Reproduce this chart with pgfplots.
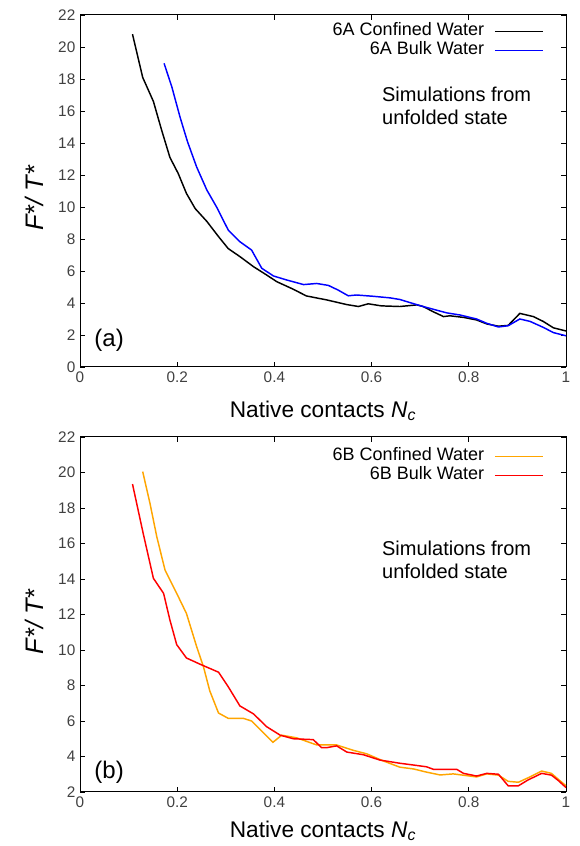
\documentclass[border=0pt]{standalone}
\usepackage{fontspec}
\setmainfont{Liberation Sans}
\usepackage{pgfplots}
\pgfplotsset{compat=1.18}
\definecolor{myblue}{RGB}{0,0,255}
\definecolor{myorange}{RGB}{255,165,0}
\definecolor{myred}{RGB}{255,0,0}
\definecolor{myredleg}{RGB}{254,0,0}
\pgfplotsset{
  panel/.style={
    scale only axis, width=364.5pt,
    xmin=0, xmax=1, xtick={0,0.2,0.4,0.6,0.8,1},
    tick align=inside,
    tick label style={font=\fontsize{11.5}{13}\selectfont, text=black!75},
    /pgf/number format/assume math mode=true,
    axis line style={line width=0.75pt},
    major tick length=4pt,
    every tick/.style={black, line width=0.6pt},
    legend plot pos=right, legend cell align=right,
    legend style={draw=none, fill=none, anchor=north east,
      font=\fontsize{13.5}{14}\selectfont, row sep=0pt, column sep=7.5pt,
      nodes={inner sep=0pt, text height=10pt, text depth=4.25pt}},
    xlabel={Native contacts \textit{N}\textsubscript{\textit{c}}},
    xlabel style={font=\fontsize{17}{19}\selectfont, anchor=center},
    ylabel={\textit{F*/ T*}},
    ylabel style={font=\fontsize{19}{21}\selectfont, anchor=center, rotate=0,
      at={(axis description cs:-0.093,0.48)}},
  },
  ser/.style={color=#1, line width=1.1pt,
    legend image code/.code={\draw[draw=#1, line width=1.2pt] (0pt,0pt) -- (36pt,0pt);}},
}
\begin{document}
\begin{tikzpicture}
\useasboundingbox (0,0) rectangle (435pt,634.5pt);
\begin{axis}[panel, at={(60pt,359.25pt)}, anchor=south west, height=264pt,
  ymin=0, ymax=22, ytick={0,2,...,22},
  xlabel style={at={(axis description cs:0.5,-0.125)}},
  legend style={at={(rel axis cs:0.963,0.988)}}]
\addplot[ser=black] coordinates {(0.108,20.8)(0.129,18.1)(0.151,16.6)(0.168,14.8)(0.185,13.1)(0.202,12.1)(0.219,10.85)(0.237,9.9)(0.261,9.1)(0.285,8.15)(0.305,7.4)(0.329,6.9)(0.357,6.27)(0.384,5.75)(0.405,5.33)(0.436,4.9)(0.466,4.44)(0.508,4.19)(0.549,3.9)(0.573,3.78)(0.593,3.95)(0.62,3.82)(0.658,3.78)(0.693,3.88)(0.706,3.78)(0.727,3.45)(0.748,3.15)(0.761,3.2)(0.789,3.1)(0.816,2.94)(0.837,2.69)(0.861,2.55)(0.881,2.6)(0.892,2.94)(0.905,3.35)(0.933,3.15)(0.953,2.85)(0.974,2.45)(1.0,2.25)};
\addlegendentry{6A Confined Water}
\addplot[ser=myblue] coordinates {(0.173,18.98)(0.189,17.5)(0.206,15.6)(0.221,14.1)(0.240,12.5)(0.261,11.06)(0.281,10.0)(0.305,8.56)(0.329,7.83)(0.353,7.31)(0.374,6.17)(0.398,5.69)(0.425,5.44)(0.460,5.15)(0.487,5.22)(0.511,5.1)(0.531,4.81)(0.552,4.45)(0.569,4.5)(0.603,4.42)(0.638,4.32)(0.658,4.22)(0.686,3.96)(0.706,3.78)(0.734,3.55)(0.755,3.38)(0.782,3.25)(0.816,3.0)(0.837,2.73)(0.861,2.5)(0.881,2.58)(0.905,3.0)(0.926,2.85)(0.953,2.48)(0.974,2.15)(1.0,1.95)};
\addlegendentry{6A Bulk Water}
\node[anchor=west, align=left, font=\fontsize{15}{17.25}\selectfont] at (axis cs:0.612,16.3) {Simulations from\\unfolded state};
\node[anchor=west, font=\fontsize{18}{20}\selectfont] at (axis cs:0.02,1.7) {(a)};
\end{axis}
\begin{axis}[panel, at={(60pt,40.5pt)}, anchor=south west, height=266.25pt,
  ymin=2, ymax=22, ytick={2,4,...,22},
  xlabel style={at={(axis description cs:0.5,-0.11)}},
  legend style={at={(rel axis cs:0.963,0.98)}}]
\addplot[ser=myorange] coordinates {(0.129,20.05)(0.144,18.26)(0.158,16.38)(0.175,14.5)(0.199,13.19)(0.219,12.06)(0.240,10.19)(0.254,9.06)(0.267,7.7)(0.285,6.45)(0.305,6.15)(0.336,6.15)(0.353,6.0)(0.377,5.35)(0.397,4.8)(0.415,5.2)(0.446,5.05)(0.487,4.65)(0.528,4.65)(0.562,4.35)(0.590,4.15)(0.624,3.75)(0.658,3.4)(0.686,3.3)(0.713,3.12)(0.741,2.96)(0.768,3.02)(0.796,2.92)(0.816,2.85)(0.837,3.02)(0.861,2.95)(0.881,2.6)(0.902,2.55)(0.922,2.8)(0.950,3.18)(0.970,3.05)(0.984,2.72)(1.0,2.35)};
\addlegendentry{6B Confined Water}
\addplot[ser=myred, forget plot] coordinates {(0.108,19.35)(0.130,16.57)(0.151,14.04)(0.172,13.19)(0.185,11.69)(0.199,10.3)(0.219,9.55)(0.247,9.2)(0.285,8.75)(0.305,7.93)(0.329,6.85)(0.357,6.4)(0.384,5.68)(0.412,5.2)(0.439,5.0)(0.480,4.95)(0.497,4.5)(0.508,4.5)(0.528,4.6)(0.549,4.25)(0.583,4.1)(0.617,3.8)(0.658,3.62)(0.686,3.52)(0.713,3.42)(0.727,3.28)(0.775,3.28)(0.789,3.05)(0.816,2.9)(0.837,3.05)(0.861,3.0)(0.881,2.35)(0.902,2.35)(0.922,2.68)(0.950,3.05)(0.970,2.95)(0.984,2.65)(1.0,2.25)};
\node[anchor=west, align=left, font=\fontsize{15}{17.25}\selectfont] at (axis cs:0.612,15.1) {Simulations from\\unfolded state};
\node[anchor=west, font=\fontsize{18}{20}\selectfont] at (axis cs:0.02,3.1) {(b)};
\end{axis}
\begin{axis}[panel, hide axis, at={(60pt,40.5pt)}, anchor=south west, height=266.25pt,
  ymin=0, ymax=22, xlabel={}, ylabel={},
  legend style={at={(rel axis cs:0.963,0.9265)}}]
\addlegendimage{ser=myredleg}
\addlegendentry{6B Bulk Water}
\end{axis}
\end{tikzpicture}
\end{document}
